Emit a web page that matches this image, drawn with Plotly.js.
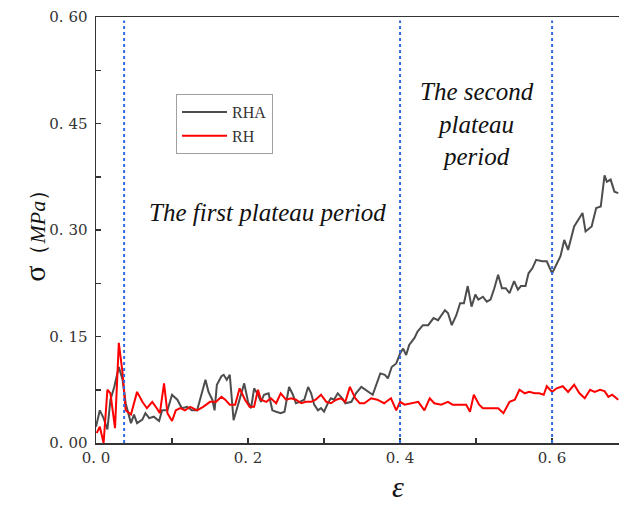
<!DOCTYPE html>
<html>
<head>
<meta charset="utf-8">
<script src="https://cdn.plot.ly/plotly-3.0.1.min.js"></script>
<style>html,body{margin:0;padding:0;background:#fff;}#chart{width:619px;height:515px;}</style>
</head>
<body>
<div id="chart"></div>
<script>
// RHA series (strain, stress in MPa)
const rhaStrain = [0.000,0.005,0.010,0.015,0.019,0.024,0.030,0.035,0.039,0.046,0.050,0.054,0.061,0.065,0.070,0.076,0.083,0.087,0.094,0.100,0.107,0.113,0.120,0.126,0.133,0.137,0.144,0.148,0.153,0.156,0.159,0.165,0.168,0.172,0.176,0.181,0.185,0.189,0.195,0.200,0.204,0.208,0.213,0.217,0.221,0.227,0.232,0.237,0.243,0.248,0.254,0.259,0.263,0.268,0.274,0.279,0.283,0.287,0.292,0.296,0.300,0.305,0.309,0.313,0.318,0.324,0.328,0.336,0.342,0.349,0.358,0.364,0.374,0.380,0.384,0.389,0.395,0.400,0.404,0.408,0.412,0.419,0.423,0.430,0.437,0.444,0.450,0.459,0.463,0.468,0.474,0.479,0.484,0.489,0.494,0.499,0.503,0.509,0.514,0.519,0.524,0.529,0.534,0.539,0.544,0.550,0.555,0.559,0.565,0.569,0.574,0.579,0.587,0.593,0.600,0.606,0.611,0.616,0.621,0.629,0.634,0.640,0.644,0.652,0.658,0.664,0.669,0.672,0.677,0.682,0.687];
const rhaStress = [0.023,0.046,0.035,0.019,0.061,0.079,0.107,0.089,0.056,0.028,0.040,0.028,0.033,0.042,0.035,0.037,0.031,0.046,0.046,0.068,0.061,0.049,0.051,0.046,0.046,0.063,0.089,0.072,0.061,0.046,0.082,0.094,0.096,0.089,0.096,0.032,0.046,0.063,0.084,0.058,0.049,0.077,0.068,0.058,0.068,0.070,0.046,0.044,0.042,0.044,0.079,0.068,0.056,0.058,0.061,0.079,0.070,0.054,0.046,0.049,0.044,0.056,0.063,0.061,0.070,0.063,0.056,0.058,0.070,0.079,0.072,0.068,0.098,0.096,0.091,0.107,0.112,0.126,0.133,0.124,0.138,0.148,0.157,0.166,0.166,0.176,0.173,0.187,0.183,0.166,0.180,0.197,0.197,0.221,0.192,0.209,0.202,0.206,0.199,0.202,0.218,0.237,0.218,0.218,0.211,0.228,0.216,0.221,0.221,0.239,0.246,0.258,0.256,0.256,0.239,0.251,0.263,0.286,0.272,0.305,0.314,0.324,0.298,0.305,0.331,0.333,0.377,0.368,0.371,0.354,0.352];
// RH series (strain, stress in MPa)
const rhStrain = [0.001,0.005,0.010,0.015,0.019,0.025,0.030,0.035,0.039,0.046,0.054,0.061,0.067,0.074,0.080,0.084,0.0895,0.094,0.100,0.105,0.111,0.117,0.124,0.133,0.141,0.150,0.158,0.165,0.170,0.176,0.183,0.189,0.196,0.202,0.208,0.213,0.217,0.224,0.230,0.237,0.243,0.250,0.257,0.263,0.270,0.276,0.283,0.289,0.296,0.303,0.309,0.316,0.322,0.328,0.334,0.341,0.347,0.353,0.362,0.370,0.379,0.388,0.395,0.400,0.406,0.415,0.424,0.432,0.439,0.445,0.454,0.463,0.469,0.478,0.487,0.492,0.497,0.504,0.509,0.514,0.522,0.529,0.536,0.544,0.551,0.557,0.564,0.570,0.577,0.583,0.589,0.593,0.600,0.606,0.614,0.621,0.629,0.636,0.643,0.650,0.656,0.663,0.669,0.674,0.679,0.687];
const rhStress = [0.014,0.023,0.000,0.075,0.070,0.021,0.141,0.098,0.046,0.040,0.072,0.058,0.049,0.058,0.049,0.042,0.084,0.042,0.031,0.046,0.049,0.046,0.051,0.046,0.051,0.058,0.058,0.065,0.061,0.054,0.054,0.077,0.061,0.051,0.051,0.075,0.061,0.058,0.063,0.056,0.070,0.061,0.063,0.061,0.056,0.058,0.058,0.061,0.068,0.058,0.056,0.061,0.063,0.058,0.079,0.063,0.056,0.056,0.063,0.061,0.056,0.063,0.046,0.058,0.054,0.056,0.058,0.046,0.063,0.056,0.054,0.058,0.054,0.054,0.054,0.044,0.068,0.054,0.049,0.049,0.049,0.049,0.042,0.058,0.061,0.075,0.070,0.072,0.070,0.070,0.068,0.080,0.072,0.077,0.080,0.072,0.082,0.070,0.063,0.075,0.072,0.075,0.073,0.065,0.068,0.061];
// Period boundaries (strain)
const boundaries = [0.037, 0.4, 0.6];
// Tick labels
const xTickVals = [0, 0.1, 0.2, 0.3, 0.4, 0.5, 0.6];
const xTickText = ["0. 0", "", "0. 2", "", "0. 4", "", "0. 6"];
const yTickVals = [0, 0.075, 0.15, 0.225, 0.30, 0.375, 0.45, 0.525, 0.60];
const yTickText = ["0. 00", "", "0. 15", "", "0. 30", "", "0. 45", "", "0. 60"];

const serif = "Liberation Serif";
const tickFamily = "DejaVu Serif";

const traces = [
  {x: rhaStrain, y: rhaStress, mode: 'lines', name: 'RHA', line: {color: '#4d4d4d', width: 2}},
  {x: rhStrain, y: rhStress, mode: 'lines', name: 'RH', line: {color: '#ff0000', width: 2}}
];

const shapes = boundaries.map(b => ({
  type: 'line', xref: 'x', yref: 'y', x0: b, x1: b, y0: 0, y1: 0.595,
  line: {color: '#2f6ae0', width: 2, dash: 'dot'}
}));

const layout = {
  width: 619, height: 515,
  margin: {l: 96, r: 0, t: 17, b: 72},
  paper_bgcolor: '#fff', plot_bgcolor: '#fff',
  showlegend: true,
  legend: {
    x: 0.153, y: 0.819, xanchor: 'left', yanchor: 'top',
    bordercolor: '#a0a0a0', borderwidth: 1, bgcolor: '#fff',
    font: {family: serif, size: 16, color: '#333'},
    itemwidth: 45, tracegroupgap: 0
  },
  xaxis: {
    range: [0, 0.688], showgrid: false, zeroline: false,
    showline: true, linecolor: '#333', linewidth: 1.5, mirror: true,
    ticks: 'inside', ticklen: 5, tickwidth: 1.5, tickcolor: '#333',
    tickmode: 'array', tickvals: xTickVals, ticktext: xTickText,
    tickfont: {family: tickFamily, size: 15, color: '#333'}
  },
  yaxis: {
    range: [0, 0.6], showgrid: false, zeroline: false,
    showline: true, linecolor: '#333', linewidth: 1.5,
    ticks: 'inside', ticklen: 5, tickwidth: 1.5, tickcolor: '#333',
    tickmode: 'array', tickvals: yTickVals, ticktext: yTickText,
    tickfont: {family: tickFamily, size: 15, color: '#333'},
    ticklabelstandoff: 4
  },
  shapes: shapes,
  annotations: [
    {x: 0.225, y: 0.325, xref: 'x', yref: 'y', text: '<i>The first plateau period</i>', showarrow: false,
     font: {family: serif, size: 25, color: '#111'}},
    {x: 0.501, y: 0.449, xref: 'x', yref: 'y', text: '<i>The second<br>plateau<br>period</i>', showarrow: false,
     font: {family: serif, size: 25, color: '#111'}},
    {x: 0.397, y: -0.145, xref: 'x', yref: 'paper', text: '<i>ε</i>', showarrow: false,
     font: {family: serif, size: 30, color: '#111'}},
    {x: -0.119, y: 0.5, xref: 'paper', yref: 'paper', xanchor: 'center', yanchor: 'middle',
     text: 'σ<span style="font-size:22px">（<i>MPa</i>）</span>', showarrow: false, textangle: -90,
     font: {family: serif, size: 30, color: '#111'}}
  ]
};

Plotly.newPlot('chart', traces, layout, {displayModeBar: false, staticPlot: true});
</script>
</body>
</html>
